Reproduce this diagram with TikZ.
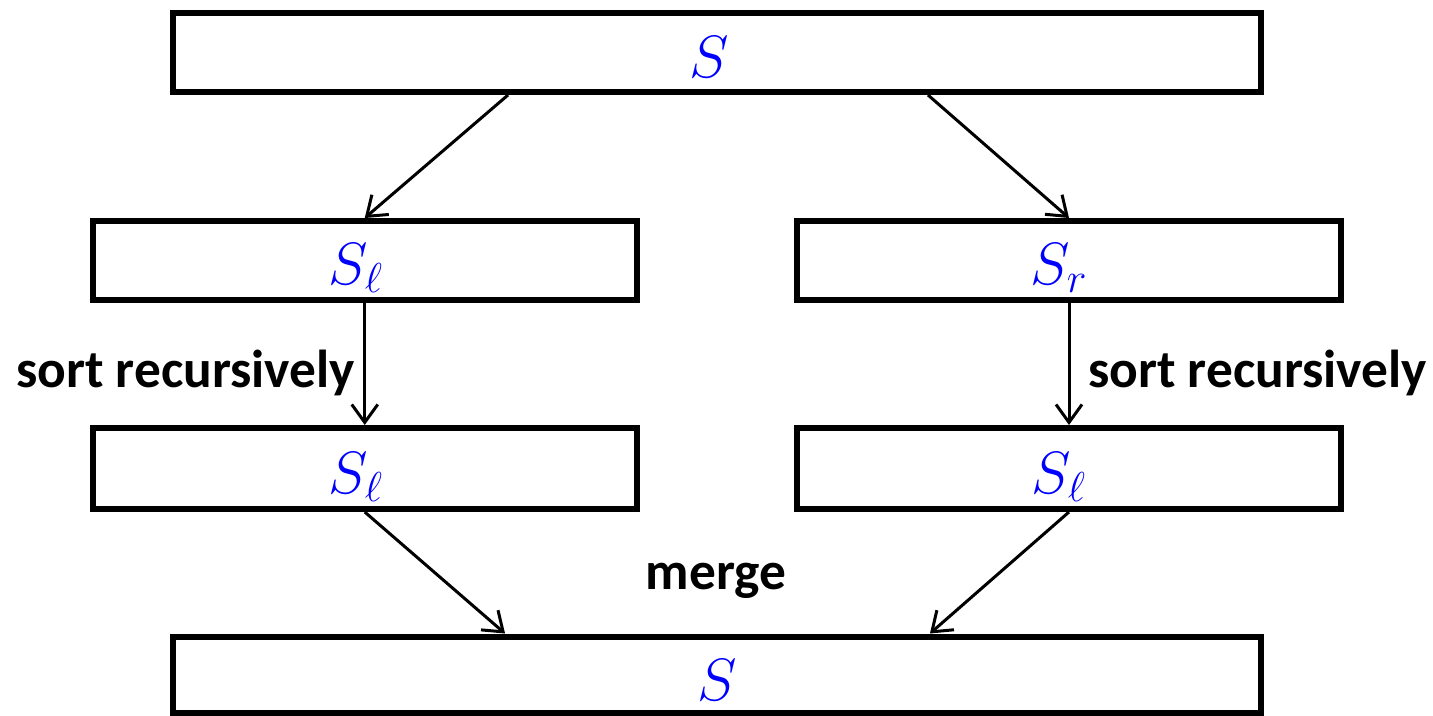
\RequirePackage{fix-cm}
\documentclass[tikz,border=0pt]{standalone}
\usepackage{fontspec}
\setmainfont{Carlito}
\usetikzlibrary{arrows.meta}
\tikzset{
  seqbox/.style={draw=black, line width=0.12cm, rectangle, inner sep=0pt},
  wide/.style={seqbox, minimum width=21.76cm},
  half/.style={seqbox, minimum width=10.89cm},
  seqlabel/.style={text=blue, inner sep=0pt, anchor=base, font=\fontsize{34}{40}\selectfont},
  steplabel/.style={inner sep=0pt, font=\fontsize{30.4}{36}\selectfont\bfseries},
  arr/.style={line width=0.06cm, -{Straight Barb[length=0.36cm, width=0.52cm, line width=0.06cm]}}
}
\begin{document}
\begin{tikzpicture}[x=0.02cm, y=-0.02cm]
  \useasboundingbox (0,0) rectangle (1433,716);

  % sequence boxes
  \node[wide, minimum height=1.59cm] (top) at (717,52.25) {};
  \node[half, minimum height=1.58cm] (ml) at (364.75,260.5) {};
  \node[half, minimum height=1.58cm] (mr) at (1069,260.5) {};
  \node[half, minimum height=1.62cm] (ll) at (364.75,468.5) {};
  \node[half, minimum height=1.62cm] (lr) at (1069,468.5) {};
  \node[wide, minimum height=1.53cm] (bot) at (717,674.75) {};

  % contents
  \node[seqlabel] (ttop) at (709,78) {$S$};
  \node[seqlabel] (tml) at (356,284) {$S_\ell$};
  \node[seqlabel] (tmr) at (1059,284) {$S_r$};
  \node[seqlabel] (tll) at (356,493) {$S_\ell$};
  \node[seqlabel] (tlr) at (1059,493) {$S_\ell$};
  \node[seqlabel] (tbot) at (717,700) {$S$};

  % split, recurse, merge
  \draw[arr] ([xshift=-4.18cm]top.south) -- (ml.north);
  \draw[arr] ([xshift=4.22cm]top.south) -- (mr.north);
  \draw[arr] (ml.south) -- (ll.north);
  \draw[arr] (mr.south) -- (lr.north);
  \draw[arr] (ll.south) -- ([xshift=-4.24cm]bot.north);
  \draw[arr] (lr.south) -- ([xshift=4.26cm]bot.north);

  % step labels
  \node[steplabel, anchor=base west] (sl) at (16,387) {sort recursively};
  \node[steplabel, anchor=base west] (sr) at (1088,387) {sort recursively};
  \node[steplabel, anchor=base] (mg) at (716,589) {merge};
\end{tikzpicture}
\end{document}
